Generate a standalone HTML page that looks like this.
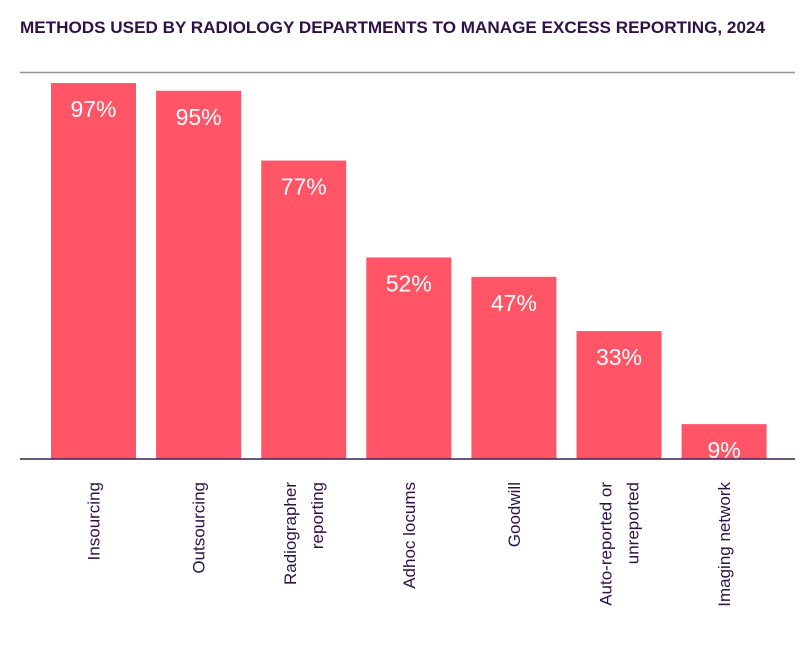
<!DOCTYPE html>
<html><head><meta charset="utf-8"><style>
body{margin:0;background:#fff;}
svg{display:block;font-family:"Liberation Sans",sans-serif;}
</style></head><body>
<svg id="chart" width="811" height="648">
<text x="20" y="33" font-size="17" font-weight="bold" fill="#2e1145" textLength="745" lengthAdjust="spacingAndGlyphs">METHODS USED BY RADIOLOGY DEPARTMENTS TO MANAGE EXCESS REPORTING, 2024</text>
<line x1="20" y1="72.5" x2="795" y2="72.5" stroke="#9c8ca4" stroke-width="1.5"/>
<g id="bars"></g>
<line x1="20" y1="459" x2="795" y2="459" stroke="#3a2050" stroke-width="1.5"/>
</svg>
<script>
const categories=[["Insourcing"],["Outsourcing"],["Radiographer","reporting"],["Adhoc locums"],["Goodwill"],["Auto-reported or","unreported"],["Imaging network"]];
const values=[97,95,77,52,47,33,9];
const valueLabels=["97%","95%","77%","52%","47%","33%","9%"];
const ns="http://www.w3.org/2000/svg";
const g=document.getElementById("bars");
const baseY=459, pxPer=3.876, x0=51, step=105.1, bw=85;
function xPos(i){return x0+i*step;}
function yPos(v){return baseY-v*pxPer;}
values.forEach((v,i)=>{
  const r=document.createElementNS(ns,"rect");
  
  
  r.setAttribute("x",xPos(i));r.setAttribute("y",yPos(v));
  r.setAttribute("width",bw);r.setAttribute("height",baseY-yPos(v));
  r.setAttribute("fill","#ff5566");g.appendChild(r);
  const t=document.createElementNS(ns,"text");
  
  
  t.setAttribute("x",xPos(i)+bw/2);t.setAttribute("y",yPos(v)+34);
  t.setAttribute("text-anchor","middle");t.setAttribute("fill","#fff");
  t.setAttribute("font-size","23");t.textContent=valueLabels[i];g.appendChild(t);
  const lines=categories[i];
  const cx=xPos(i)+bw/2;
  lines.forEach((ln,j)=>{
    const lt=document.createElementNS(ns,"text");
    
    
    const off=(j-(lines.length-1)/2)*27+6;
    const lx=cx+off, ly=482;
    lt.setAttribute("x",lx);lt.setAttribute("y",ly);
    lt.setAttribute("transform","rotate(-90 "+lx+" "+ly+")");
    lt.setAttribute("text-anchor", lines.length>1&&j===0?"end":"end");
    lt.setAttribute("font-size","17");lt.setAttribute("fill","#2e1145");
    lt.textContent=ln;g.appendChild(lt);
  });
});
</script>
</body></html>
